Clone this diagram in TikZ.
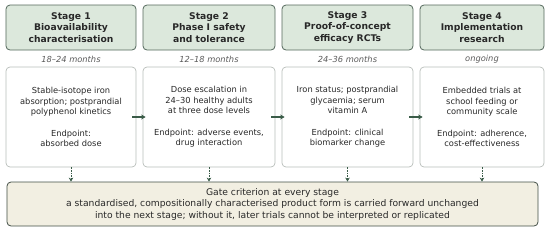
\documentclass[tikz,border=0pt]{standalone}
\usepackage{fontspec}
\setmainfont{DejaVu Sans}
\usetikzlibrary{arrows.meta,positioning}
\definecolor{stedge}{RGB}{84,104,92}
\definecolor{sthead}{RGB}{220,232,220}
\definecolor{stbody}{RGB}{184,190,186}
\definecolor{stgate}{RGB}{242,239,226}
\definecolor{stgedge}{RGB}{66,78,70}
\definecolor{starr}{RGB}{58,92,72}
\definecolor{stink}{RGB}{40,40,40}
\definecolor{sttime}{RGB}{90,90,90}
\tikzset{
  hdr/.style={
    draw=stedge, fill=sthead, line width=0.8pt, rounded corners=4bp,
    align=center, minimum height=45bp, inner sep=2bp,
    font=\fontsize{9.2bp}{11.3bp}\selectfont\bfseries, text=stink
  },
  bodybox/.style={
    draw=stbody, fill=white, line width=0.7pt, rounded corners=4bp,
    align=center, minimum height=100bp, inner sep=2bp,
    font=\fontsize{8.3bp}{10.4bp}\selectfont, text=stink
  },
  dur/.style={font=\fontsize{8.3bp}{10bp}\selectfont\itshape, text=sttime},
  gate/.style={
    draw=stgedge, fill=stgate, line width=0.8pt, rounded corners=4bp,
    align=center, minimum width=531bp, minimum height=44bp,
    font=\fontsize{9.2bp}{11.5bp}\selectfont, text=stink
  },
  arr/.style={-{Stealth[length=4.5bp,width=5bp]}, draw=starr, line width=1.3pt},
  darr/.style={-{Stealth[length=4bp,width=4.5bp]}, draw=starr, line width=0.8pt, dash pattern=on 1.5bp off 1.2bp}
}
\begin{document}
\begin{tikzpicture}[x=1bp,y=-1bp]
  \useasboundingbox (0,0) rectangle (550,232);

  % Stage headers
  \node[hdr, minimum width=130bp] (h1) at (71,27.5) {Stage 1\\Bioavailability\\characterisation};
  \node[hdr, minimum width=132bp] (h2) at (209,27.5) {Stage 2\\Phase I safety\\and tolerance};
  \node[hdr, minimum width=131bp] (h3) at (347.5,27.5) {Stage 3\\Proof-of-concept\\efficacy RCTs};
  \node[hdr, minimum width=124bp] (h4) at (482,27.5) {Stage 4\\Implementation\\research};

  % Durations
  \node[dur] (t1) at (71,59) {18–24 months};
  \node[dur] (t2) at (209,59) {12–18 months};
  \node[dur] (t3) at (347.5,59) {24–36 months};
  \node[dur] (t4) at (482,59) {ongoing};

  % Stage contents
  \node[bodybox, minimum width=130bp] (b1) at (71,117) {Stable-isotope iron\\absorption; postprandial\\polyphenol kinetics\\[11bp]Endpoint:\\absorbed dose};
  \node[bodybox, minimum width=132bp] (b2) at (209,117) {Dose escalation in\\24–30 healthy adults\\at three dose levels\\[11bp]Endpoint: adverse events,\\drug interaction};
  \node[bodybox, minimum width=131bp] (b3) at (347.5,117) {Iron status; postprandial\\glycaemia; serum\\vitamin A\\[11bp]Endpoint: clinical\\biomarker change};
  \node[bodybox, minimum width=124bp] (b4) at (482,117) {Embedded trials at\\school feeding or\\community scale\\[11bp]Endpoint: adherence,\\cost-effectiveness};

  % Gate criterion
  \node[gate] (gc) at (272.5,204) {Gate criterion at every stage\\a standardised, compositionally characterised product form is carried forward unchanged\\into the next stage; without it, later trials cannot be interpreted or replicated};

  \draw[arr, shorten <=-4bp, shorten >=-3bp] (b1) -- (b2);
  \draw[arr, shorten <=-4bp, shorten >=-3bp] (b2) -- (b3);
  \draw[arr, shorten <=-4bp, shorten >=-3bp] (b3) -- (b4);

  \draw[darr] (b1.south) -- (b1.south |- gc.north);
  \draw[darr] (b2.south) -- (b2.south |- gc.north);
  \draw[darr] (b3.south) -- (b3.south |- gc.north);
  \draw[darr] (b4.south) -- (b4.south |- gc.north);
\end{tikzpicture}
\end{document}
